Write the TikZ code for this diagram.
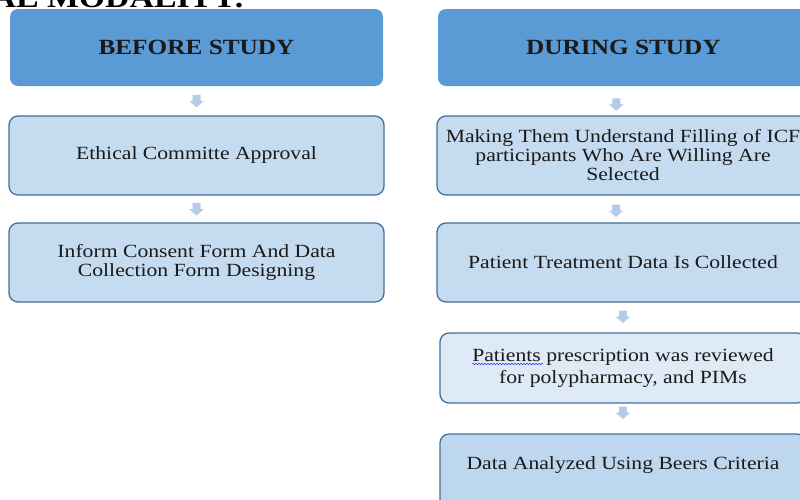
\documentclass[tikz,border=0pt]{standalone}
\usepackage{fontspec}
\setmainfont{Liberation Serif}[FakeStretch=1.165]
\usetikzlibrary{calc,decorations.pathmorphing}
\definecolor{hdr}{RGB}{91,155,213}
\definecolor{boxf}{RGB}{197,219,240}
\definecolor{boxl}{RGB}{222,234,246}
\definecolor{boxd}{RGB}{189,215,238}
\definecolor{bord}{RGB}{65,113,156}
\definecolor{arr}{RGB}{180,204,234}
\definecolor{txt}{RGB}{26,26,26}
\tikzset{
  headbox/.style={rectangle, rounded corners=8pt, fill=hdr, draw=none, minimum width=#1, minimum height=77pt, inner sep=0pt, text=txt, font=\fontsize{21.7}{24}\selectfont\bfseries},
  stepbox/.style={rectangle, rounded corners=9pt, draw=bord, line width=1.3pt, fill=boxf, minimum width=#1, minimum height=79pt, inner sep=0pt, text=txt, align=center, font=\fontsize{18.6}{19}\selectfont},
  darrow/.pic={\fill[arr] (-4,-6) -- (4,-6) -- (4,0) -- (7.5,0) -- (0,6.5) -- (-7.5,0) -- (-4,0) -- cycle;}
}
\begin{document}
\begin{tikzpicture}[x=1pt,y=-1pt]
\useasboundingbox (0,0) rectangle (800,499);
\clip (0,0) rectangle (800,499);
\fill[white] (0,0) rectangle (800,499);
% cropped title
\node[anchor=base east, inner sep=0pt, text=black, font=\fontsize{29}{30}\selectfont\bfseries] (ttl) at (245,7.5) {AL MODALITY:};
% left column
\node[headbox=373pt] (hL) at (196.5,47.5) {BEFORE STUDY};
\node[stepbox=375pt] (b1) at (196.5,155.5) {Ethical Committe Approval};
\node[stepbox=375pt] (b2) at (196.5,262.5) {Inform Consent Form And Data\\Collection Form Designing};
% right column
\node[headbox=371pt] (hR) at (623.5,47.5) {DURING STUDY};
\node[stepbox=372pt] (b3) at (623,155.5) {Making Them Understand Filling of ICF\\participants Who Are Willing Are\\Selected};
\node[stepbox=372pt] (b4) at (623,262.5) {Patient Treatment Data Is Collected};
\node[stepbox=366pt, minimum height=70pt, fill=boxl, font=\fontsize{18.6}{21.5}\selectfont] (b5) at (623,368) {Patients prescription was reviewed\\for polypharmacy, and PIMs};
\node[stepbox=366pt, fill=boxd, text depth=21pt] (b6) at (623,473.5) {Data Analyzed Using Beers Criteria};
% spell-check underline
\draw[blue!80, line width=0.5pt, decorate, decoration={snake, amplitude=0.8pt, segment length=3pt}] (472,364) -- (543,364);
% arrows
\pic at ($(hL.south)!0.5!(b1.north)$) {darrow};
\pic at ($(b1.south)!0.5!(b2.north)$) {darrow};
\pic at ($(hR.south)!0.5!(b3.north)+(-7,3.5)$) {darrow};
\pic at ($(b3.south)!0.5!(b4.north)+(-7,1.5)$) {darrow};
\pic at ($(b4.south)!0.5!(b5.north)+(0,-1)$) {darrow};
\pic at ($(b5.south)!0.5!(b6.north)+(0,-6)$) {darrow};
\end{tikzpicture}
\end{document}
